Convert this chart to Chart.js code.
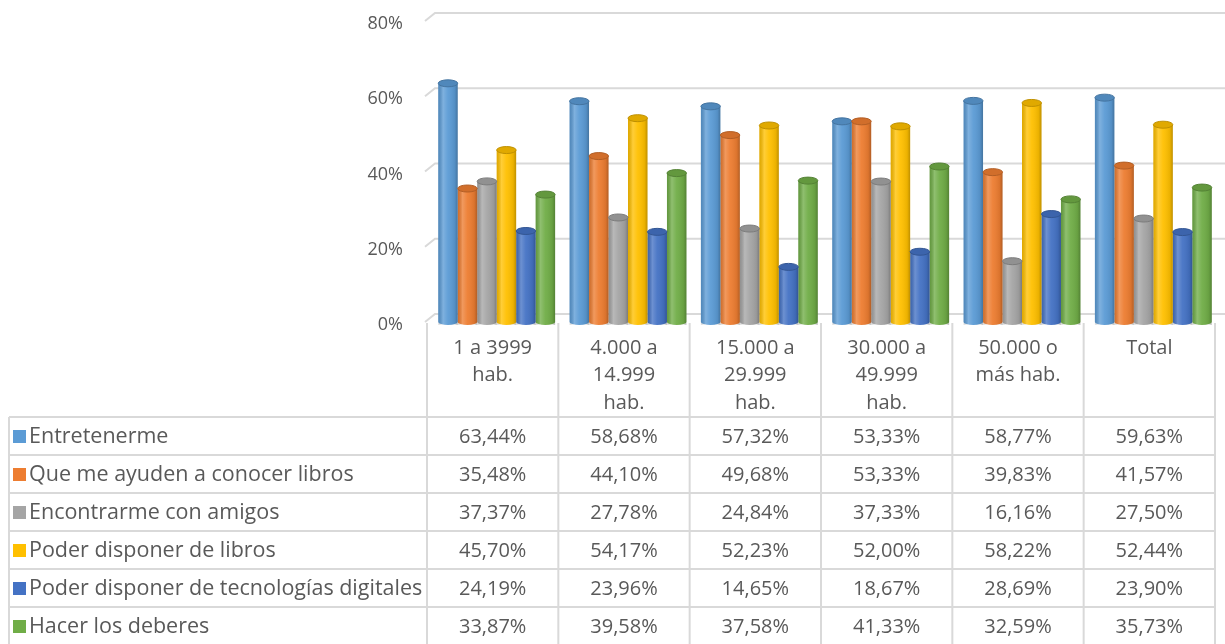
<!DOCTYPE html>
<html>
<head>
<meta charset="utf-8">
<script src="https://cdn.jsdelivr.net/npm/chart.js@4/dist/chart.umd.min.js"></script>
<style>
  body { margin: 0; background: #fff; }
  #wrap { width: 1225px; height: 644px; position: relative; }
</style>
</head>
<body>
<div id="wrap"><canvas id="grafico"></canvas></div>
<script>
// categorias (tamaño del municipio)
var categorias = [
    ['1 a 3999', 'hab.'],
    ['4.000 a', '14.999', 'hab.'],
    ['15.000 a', '29.999', 'hab.'],
    ['30.000 a', '49.999', 'hab.'],
    ['50.000 o', 'más hab.'],
    ['Total']
];
var series = [
    'Entretenerme',
    'Que me ayuden a conocer libros',
    'Encontrarme con amigos',
    'Poder disponer de libros',
    'Poder disponer de tecnologías digitales',
    'Hacer los deberes'
];
var entretenerme = [63.44, 58.68, 57.32, 53.33, 58.77, 59.63];
var conocerLibros = [35.48, 44.10, 49.68, 53.33, 39.83, 41.57];
var amigos = [37.37, 27.78, 24.84, 37.33, 16.16, 27.50];
var disponerLibros = [45.70, 54.17, 52.23, 52.00, 58.22, 52.44];
var tecnologias = [24.19, 23.96, 14.65, 18.67, 28.69, 23.90];
var deberes = [33.87, 39.58, 37.58, 41.33, 32.59, 35.73];
var valores = [entretenerme, conocerLibros, amigos, disponerLibros, tecnologias, deberes];
var ticksY = [0, 20, 40, 60, 80];

var colores = ['#5B9BD5', '#ED7D31', '#A5A5A5', '#FFC000', '#4472C4', '#70AD47'];
var textColor = '#595959';
var lineColor = '#D9D9D9';
var fuente = '"Open Sans", sans-serif';

function oscurecer(hex, f) {
    var r = parseInt(hex.slice(1, 3), 16), g = parseInt(hex.slice(3, 5), 16), b = parseInt(hex.slice(5, 7), 16);
    return 'rgb(' + Math.round(r * f) + ',' + Math.round(g * f) + ',' + Math.round(b * f) + ')';
}

function formato(v) {
    return v.toFixed(2).replace('.', ',') + '%';
}

// gridlines of the back wall with the small 3D slant on the left
var fondoPlugin = {
    id: 'fondo',
    beforeDatasetsDraw: function (chart) {
        var ctx = chart.ctx;
        var y = chart.scales.y;
        ctx.save();
        ctx.strokeStyle = lineColor;
        ctx.lineWidth = 2;
        ticksY.forEach(function (t) {
            var py = y.getPixelForValue(t);
            ctx.beginPath();
            ctx.moveTo(425, py);
            ctx.lineTo(435, py - 8);
            ctx.lineTo(1225, py - 8);
            ctx.stroke();
        });
        ctx.restore();
        ctx.save();
        ctx.translate(4, 0);
    },
    afterDatasetsDraw: function (chart) {
        var ctx = chart.ctx;
        chart.data.datasets.forEach(function (ds, i) {
            var meta = chart.getDatasetMeta(i);
            var col = colores[i];
            meta.data.forEach(function (el) {
                var p = el.getProps(['x', 'y', 'base', 'width'], true);
                var left = p.x - p.width / 2;
                var rx = p.width / 2;
                // bottom round
                ctx.beginPath();
                ctx.ellipse(p.x, p.base, rx, 3, 0, 0, Math.PI);
                ctx.fillStyle = col;
                ctx.fill();
                // cylinder shading
                var g = ctx.createLinearGradient(left, 0, left + p.width, 0);
                g.addColorStop(0, 'rgba(0,0,0,0.12)');
                g.addColorStop(0.25, 'rgba(255,255,255,0.22)');
                g.addColorStop(0.5, 'rgba(255,255,255,0.05)');
                g.addColorStop(0.85, 'rgba(0,0,0,0.08)');
                g.addColorStop(1, 'rgba(0,0,0,0.25)');
                ctx.fillStyle = g;
                ctx.fillRect(left, p.y, p.width, p.base - p.y + 3);
                // top cap
                ctx.beginPath();
                ctx.ellipse(p.x, p.y, rx, 3.5, 0, 0, Math.PI * 2);
                ctx.fillStyle = oscurecer(col, 0.88);
                ctx.fill();
                ctx.strokeStyle = oscurecer(col, 0.75);
                ctx.lineWidth = 1;
                ctx.stroke();
            });
        });
        ctx.restore();
    }
};

// data table under the plot
var tablaPlugin = {
    id: 'tabla',
    afterDraw: function (chart) {
        var ctx = chart.ctx;
        var xs = chart.scales.x;
        var n = categorias.length;
        var w = (chart.chartArea.right - chart.chartArea.left) / n;
        var y0 = 417, rowH = 38;
        var bordes = [];
        for (var i = 0; i <= n; i++) bordes.push(xs.getPixelForValue(0) - w / 2 + i * w);

        ctx.save();
        ctx.strokeStyle = lineColor;
        ctx.lineWidth = 2;
        bordes.forEach(function (bx) {
            ctx.beginPath();
            ctx.moveTo(bx, 323);
            ctx.lineTo(bx, 644);
            ctx.stroke();
        });
        ctx.beginPath();
        ctx.moveTo(9, y0);
        ctx.lineTo(9, 644);
        ctx.stroke();
        for (var r = 0; r <= series.length; r++) {
            ctx.beginPath();
            ctx.moveTo(9, y0 + r * rowH);
            ctx.lineTo(bordes[n], y0 + r * rowH);
            ctx.stroke();
        }

        ctx.fillStyle = textColor;
        ctx.font = '20px ' + fuente;
        ctx.textAlign = 'center';
        ctx.textBaseline = 'middle';
        categorias.forEach(function (lines, i) {
            var cx = xs.getPixelForValue(i);
            lines.forEach(function (t, k) {
                ctx.fillText(t, cx, 348 + k * 27.5);
            });
        });

        series.forEach(function (s, r) {
            var cy = y0 + r * rowH + rowH / 2;
            ctx.fillStyle = colores[r];
            ctx.fillRect(13, cy - 6, 13, 13);
            ctx.fillStyle = textColor;
            ctx.textAlign = 'left';
            ctx.font = '21.5px ' + fuente;
            ctx.fillText(s, 29, cy + 1);
            ctx.textAlign = 'center';
            ctx.font = '20px ' + fuente;
            valores[r].forEach(function (v, i) {
                ctx.fillText(formato(v), xs.getPixelForValue(i), cy + 1);
            });
        });
        ctx.restore();
    }
};

var ctx = document.getElementById('grafico').getContext('2d');
var chart = new Chart(ctx, {
    type: 'bar',
    data: {
        labels: categorias,
        datasets: series.map(function (s, i) {
            return {
                label: s,
                data: valores[i],
                backgroundColor: colores[i],
                borderWidth: 0,
                barPercentage: 1,
                categoryPercentage: 0.89
            };
        })
    },
    options: {
        responsive: true,
        maintainAspectRatio: false,
        animation: false,
        layout: { padding: { left: 0, right: 10, top: 21, bottom: 322 } },
        plugins: {
            legend: { display: false },
            tooltip: { enabled: false }
        },
        scales: {
            x: { display: false },
            y: {
                min: 0,
                max: 80,
                border: { display: false },
                grid: { display: false, drawTicks: false },
                afterFit: function (scale) {
                    scale.width = 427;
                    scale.paddingTop = 0;
                    scale.paddingBottom = 0;
                },
                ticks: {
                    stepSize: 20,
                    padding: 24,
                    labelOffset: 3,
                    color: textColor,
                    font: { family: fuente, size: 18 },
                    callback: function (v) { return v + '%'; }
                }
            }
        }
    },
    plugins: [fondoPlugin, tablaPlugin]
});
</script>
</body>
</html>
